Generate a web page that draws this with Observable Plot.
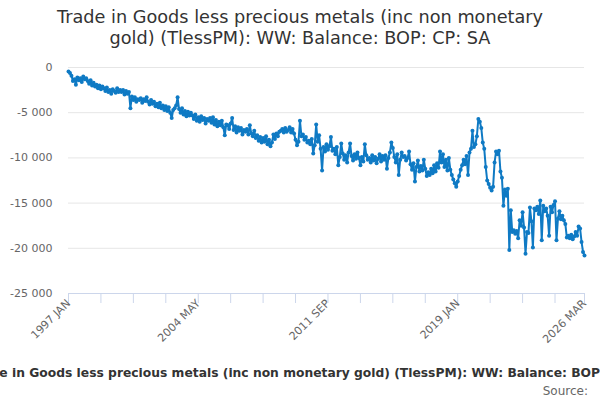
<!DOCTYPE html>
<html>
<head>
<meta charset="utf-8">
<script src="https://cdn.jsdelivr.net/npm/d3@7"></script>
<script src="https://cdn.jsdelivr.net/npm/@observablehq/plot@0.6"></script>
<style>
  body { margin: 0; background: #fff; font-family: "DejaVu Sans", sans-serif; width: 600px; height: 400px; overflow: hidden; }
  #title { height: 56px; box-sizing: border-box; padding-top: 7px; text-align: center; font-size: 17.7px; line-height: 21px; color: #333; }
  #caption { display: flex; justify-content: center; white-space: nowrap; overflow: hidden; padding-left: 24px; font-size: 12.3px; font-weight: bold; color: #333; height: 14px; line-height: 14px; }
  #source { text-align: right; font-size: 12px; color: #666; padding-right: 12px; margin-top: 4px; line-height: 14px; }
</style>
</head>
<body>
<div id="title">Trade in Goods less precious metals (inc non monetary<br>gold) (TlessPM): WW: Balance: BOP: CP: SA</div>
<div id="chart"></div>
<div id="caption"><span>Trade in Goods less precious metals (inc non monetary gold) (TlessPM): WW: Balance: BOP: CP: SA</span></div>
<div id="source">Source:</div>
<script>
// monthly balance, £ million, from 1997 JAN to 2026 MAR (one row per year)
const startYear = 1997;
const balance = [
  -450, -600, -900, -1500, -1300, -1900, -1100, -1400, -1200, -1600, -1000, -1300,
  -1200, -1500, -1800, -1400, -2000, -1700, -2100, -1900, -2300, -2000, -2400, -2100,
  -2300, -2600, -2200, -2700, -2500, -2900, -2400, -2600, -2800, -2300, -2700, -2500,
  -2700, -2500, -3000, -2600, -2900, -2700, -4500, -3200, -3600, -3300, -3800, -3500,
  -3600, -3400, -3900, -3500, -3700, -3300, -3800, -4100, -3600, -4000, -3800, -4300,
  -4000, -4400, -3900, -4500, -4200, -4700, -4300, -4800, -4400, -5000, -5600, -4700,
  -4500, -4200, -3300, -4600, -5000, -4500, -5200, -4800, -5400, -4900, -5300, -5000,
  -5300, -5700, -5200, -5900, -5500, -6000, -5400, -5800, -5600, -6200, -5700, -5900,
  -5600, -6100, -5500, -6300, -5800, -6500, -6000, -6400, -5900, -6600, -7500, -6300,
  -6400, -6800, -6200, -5600, -6900, -6500, -7200, -6600, -7000, -6700, -7400, -6900,
  -7100, -6800, -7400, -6400, -7300, -7600, -7000, -7800, -7500, -8100, -7700, -8300,
  -7800, -8200, -7600, -8500, -8000, -8700, -8300, -7400, -7900, -7300, -7600, -7100,
  -7000, -6800, -7200, -6700, -7100, -6900, -6600, -7200, -6800, -7300, -8000, -8600,
  -8200, -5900, -7600, -7400, -8000, -7700, -8300, -8100, -8500, -7900, -9500, -8600,
  -6300, -8200, -7500, -9000, -11400, -8800, -9300, -8500, -9100, -8700, -7700, -9200,
  -9000, -9600, -8800, -10800, -9900, -8400, -9500, -10200, -9700, -10500, -9400, -8400,
  -9800, -10300, -9600, -10100, -9400, -10000, -10800, -9900, -10400, -8500, -9700, -10200,
  -10000, -10500, -9700, -10300, -9900, -10600, -10100, -9600, -10400, -9800, -10200, -9700,
  -11200, -10000, -9400, -8300, -8900, -9900, -10500, -9600, -11900, -10200, -9400, -9900,
  -9800, -10300, -10000, -9300, -10700, -11300, -10600, -12600, -11000, -10300, -11500, -10900,
  -11400, -10200, -11200, -12000, -11600, -11900, -11200, -11700, -10800, -11500, -10600, -11100,
  -9300, -10500, -9600, -11000, -10200, -11400, -10000, -11300, -11900, -12400, -12800, -13200,
  -12600, -12000, -11300, -10800, -10200, -10700, -9800, -11900, -9400, -9000, -7000, -8800,
  -8500, -7600, -5700, -6000, -6700, -8300, -9000, -11000, -12500, -12900, -13300, -13600,
  -13200, -10500, -9300, -9600, -9200, -11500, -12200, -15300, -13500, -14200, -13400, -20200,
  -15800, -18200, -18000, -18400, -18100, -18900, -16900, -17500, -16000, -17700, -20600, -18200,
  -18300, -15500, -17000, -19900, -15600, -15800, -15400, -16200, -14700, -19100, -15300, -15900,
  -15600, -16400, -18600, -15400, -16000, -15200, -14800, -19100, -16700, -15900, -16800, -16400,
  -16900, -17300, -18800, -18600, -18900, -18500, -19000, -18700, -18200, -18600, -17600, -17800,
  -19300, -20400, -20800
];
const monthNames = ["JAN","FEB","MAR","APR","MAY","JUN","JUL","AUG","SEP","OCT","NOV","DEC"];
const yTicks = [0, -5000, -10000, -15000, -20000, -25000];
const xLabelMonths = ["1997 JAN", "2004 MAY", "2011 SEP", "2019 JAN", "2026 MAR"];

const data = balance.map((v, i) => ({
  i,
  month: `${startYear + Math.floor(i / 12)} ${monthNames[i % 12]}`,
  value: v
}));
const monthIndex = new Map(data.map(d => [d.month, d.i]));
const labelIdx = xLabelMonths.map(m => monthIndex.get(m));
const last = data.length - 1;
const minorIdx = d3.range(0, last, 22).concat([last]);

const fmt = d3.formatLocale({decimal: ".", thousands: " ", grouping: [3], currency: ["", ""], minus: "-"}).format(",");
const blue = "#0f7ac4";

const chart = Plot.plot({
  width: 600,
  height: 310,
  marginTop: 11,
  marginBottom: 73,
  marginLeft: 68,
  marginRight: 16,
  style: {fontFamily: "DejaVu Sans", fontSize: "11px", color: "#666", background: "#fff"},
  x: {type: "linear", domain: [0, last], label: null},
  y: {domain: [-25000, 0], label: null},
  marks: [
    Plot.gridY(yTicks, {stroke: "#e6e6e6", strokeOpacity: 1}),
    Plot.axisY(yTicks, {tickSize: 0, tickPadding: 16, tickFormat: fmt, fill: "#666", label: null}),
    Plot.ruleY([-25000], {stroke: "#ccd6eb"}),
    Plot.axisX(minorIdx, {tickSize: 10, stroke: "#ccd6eb", strokeOpacity: 1, tickFormat: () => "", label: null}),
    Plot.axisX(labelIdx, {tickSize: 0, tickPadding: 8, tickRotate: -45, fill: "#666",
      tickFormat: i => data[i].month, label: null}),
    Plot.line(data, {x: "i", y: "value", stroke: blue, strokeWidth: 2}),
    Plot.dot(data, {x: "i", y: "value", r: 2, fill: blue, stroke: null})
  ]
});

d3.select("#chart").append(() => chart);
</script>
</body>
</html>
